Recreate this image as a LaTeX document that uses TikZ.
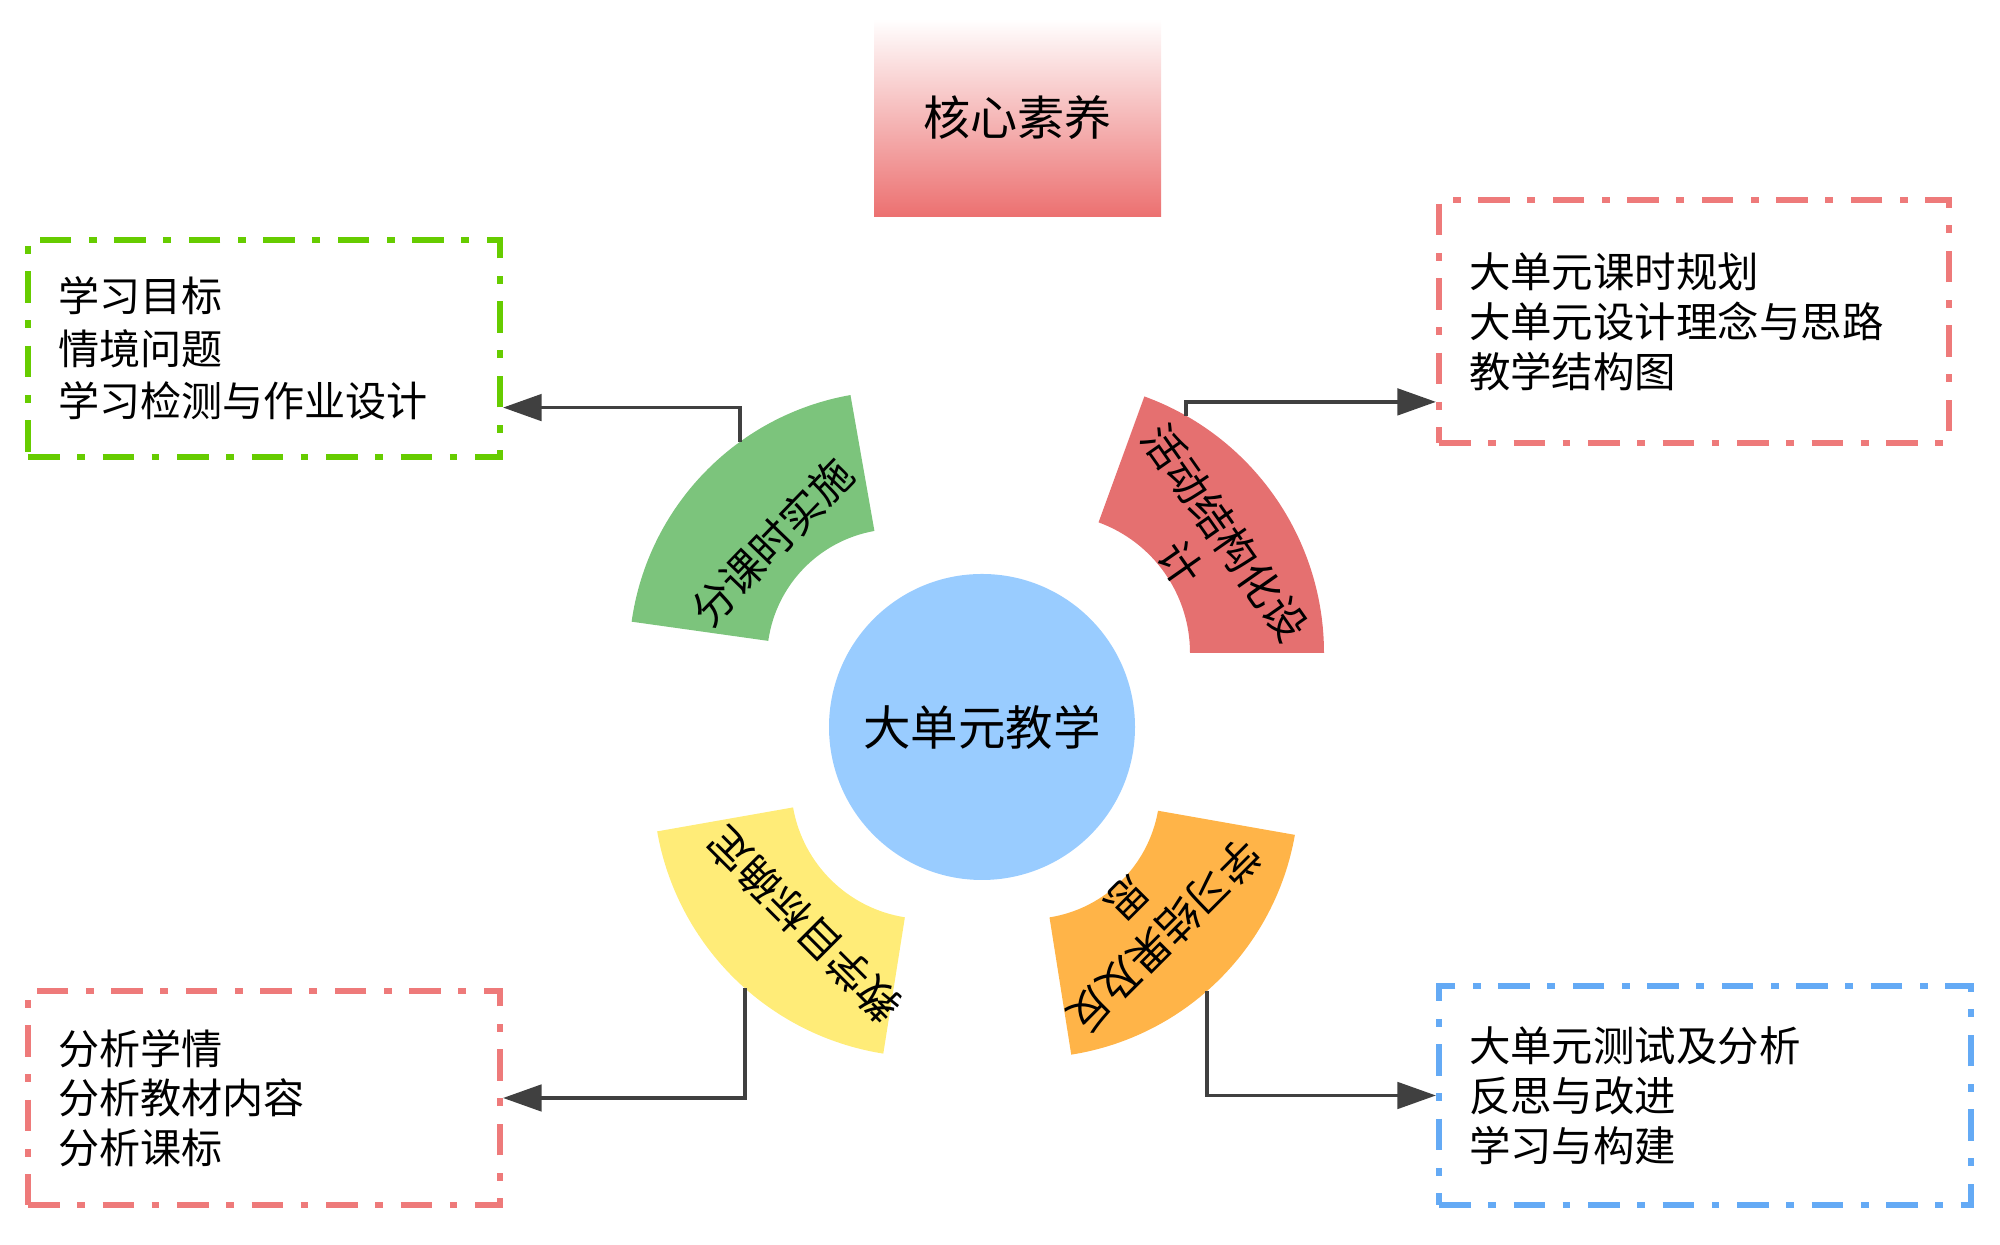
\documentclass[tikz,border=0pt]{standalone}
\usepackage{fontspec}
\setmainfont{Noto Sans CJK SC}
\usepackage{xcolor}
\usepackage{tikz}
\usetikzlibrary{positioning,arrows.meta,calc}

\definecolor{unitblue}{RGB}{153,204,255}
\definecolor{secgreen}{RGB}{124,196,124}
\definecolor{secred}{RGB}{229,112,112}
\definecolor{secyellow}{RGB}{255,236,120}
\definecolor{secorange}{RGB}{255,180,72}
\definecolor{coreRed}{RGB}{236,112,112}
\definecolor{boxgreen}{RGB}{102,204,0}
\definecolor{boxred}{RGB}{238,122,122}
\definecolor{boxblue}{RGB}{100,170,245}
\definecolor{linkgray}{RGB}{64,64,64}

\begin{document}
\begin{tikzpicture}[
        core/.style={rectangle, top color=white, bottom color=coreRed, minimum width=2.87cm, minimum height=1.98cm, font=\fontsize{13.4}{16}\selectfont},
        unit/.style={circle, fill=unitblue, minimum size=3.06cm, font=\fontsize{13.5}{16}\selectfont},
        seclabel/.style={align=center, font=\fontsize{12}{15.2}\selectfont},
        infobox/.style={rectangle, line width=1.7pt, dash pattern=on 9pt off 5pt on 2.2pt off 5pt, align=left, inner xsep=0.3cm},
        leftbox/.style={infobox, text width=4.12cm, font=\fontsize{11.7}{15}\selectfont},
        rightbox/.style={infobox, font=\fontsize{11.8}{14.2}\selectfont},
        link/.style={-{Triangle[length=11pt,width=7.5pt]}, line width=1.1pt, draw=linkgray}
    ]
    \useasboundingbox (0,0) rectangle (20,12.45);

    % Top
    \node[core] (core) at (10.175, 11.27) {核心素养};

    % Segments
    \foreach \nm/\x/\y/\ri/\ro/\sa/\ea/\col in {
        ga/8.97/5.86/1.30/2.68/100/172/secgreen,
        ra/10.51/5.92/1.39/2.73/0/70/secred,
        ya/9.26/4.61/1.35/2.73/190/261/secyellow,
        oa/10.29/4.57/1.31/2.70/279/350/secorange} {
        \coordinate (\nm) at (\x,\y);
        \fill[\col, shift={(\x,\y)}] (\sa:\ri) arc[start angle=\sa, end angle=\ea, radius=\ri]
            -- (\ea:\ro) arc[start angle=\ea, end angle=\sa, radius=\ro] -- cycle;
    }

    % Centre
    \node[unit] (unit) at (9.82, 5.18) {大单元教学};

    % Segment labels
    \node[seclabel, rotate=46] (gl) at (7.72, 7.03) {分课时实施};
    \node[seclabel, rotate=-55] (rl) at (12.03, 6.97) {活动结构化设\\计};
    \node[seclabel, rotate=135] (yl) at (8.04, 3.20) {教学目标确定};
    \node[seclabel, rotate=225] (ol) at (11.46, 3.27) {学习结果及反\\思};

    % Boxes
    \node[leftbox, draw=boxgreen, minimum height=2.17cm] (tl) at (2.64, 8.965) {学习目标\\情境问题\\学习检测与作业设计};
    \node[rightbox, draw=boxred, text width=4.50cm, minimum height=2.43cm] (tr) at (16.94, 9.235) {大单元课时规划\\大单元设计理念与思路\\教学结构图};
    \node[leftbox, draw=boxred, minimum height=2.14cm, font=\fontsize{11.7}{14.1}\selectfont] (bl) at (2.64, 1.47) {分析学情\\分析教材内容\\分析课标};
    \node[rightbox, draw=boxblue, text width=4.72cm, minimum height=2.19cm] (br) at (17.05, 1.495) {大单元测试及分析\\反思与改进\\学习与构建};

    % Arrows
    \coordinate (gs) at ($(ga)+(125.8:2.68)$);
    \coordinate (rs) at ($(ra)+(60.4:2.73)$);
    \coordinate (ys) at ($(ya)+(228.4:2.73)$);
    \coordinate (os) at ($(oa)+(311.3:2.70)$);
    \draw[link] (gs) |- ($(tl.south east)!0.235!(tl.north east)$);
    \draw[link] (rs) |- ($(tr.south west)!0.177!(tr.north west)$);
    \draw[link] (ys) |- (bl.east);
    \draw[link] (os) |- (br.west);
\end{tikzpicture}
\end{document}
